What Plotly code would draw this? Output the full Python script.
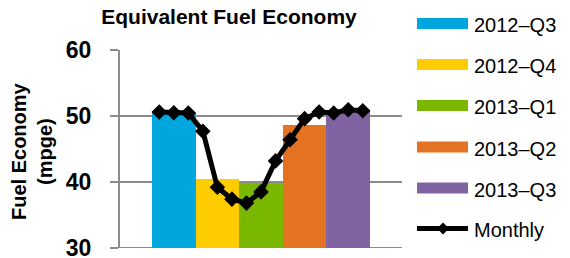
import plotly.graph_objects as go

quarters = ["2012–Q3", "2012–Q4", "2013–Q1", "2013–Q2", "2013–Q3"]
quarter_values = [50.5, 40.5, 39.9, 48.7, 50.7]
quarter_colors = ["#00A6DE", "#FFCC00", "#7AB800", "#E37222", "#8064A2"]

months = ["Jul-12", "Aug-12", "Sep-12", "Oct-12", "Nov-12", "Dec-12", "Jan-13", "Feb-13",
          "Mar-13", "Apr-13", "May-13", "Jun-13", "Jul-13", "Aug-13", "Sep-13"]
monthly_values = [50.6, 50.5, 50.45, 47.7, 39.2, 37.4, 36.8, 38.5,
                  43.2, 46.4, 49.6, 50.6, 50.45, 50.95, 50.8]

y_ticks = [30, 40, 50, 60]

W, H = 570, 258
L, R, T, B = 120, 168, 50, 10
PW, PH = W - L - R, H - T - B
FONT = "Arial, Liberation Sans, sans-serif"


def px(p):
    return (p - L) / PW


def py(q):
    return (H - B - q) / PH


fig = go.Figure()
for q, v, c in zip(quarters, quarter_values, quarter_colors):
    fig.add_trace(go.Bar(x=[q], y=[v], name=q, marker=dict(color=c, line=dict(width=0)),
                         showlegend=False, xaxis="x", yaxis="y"))

fig.add_trace(go.Scatter(x=months, y=monthly_values, name="Monthly", mode="lines+markers",
                         line=dict(color="black", width=5),
                         marker=dict(symbol="diamond", size=12, color="black"),
                         showlegend=False, xaxis="x2", yaxis="y"))

grid = "#8C8C8C"
fig.update_layout(
    width=W, height=H,
    margin=dict(l=L, r=R, t=T, b=B, pad=0, autoexpand=False),
    paper_bgcolor="white", plot_bgcolor="white",
    barmode="overlay", bargap=0,
    font=dict(family=FONT, color="black"),
    xaxis=dict(type="category", categoryorder="array", categoryarray=quarters,
               range=[-1.23, 5.23], showticklabels=False, showgrid=False,
               zeroline=False, showline=False, ticks="", automargin=False),
    xaxis2=dict(type="category", categoryorder="array", categoryarray=months,
                overlaying="x", range=[-2.7, 16.7], showticklabels=False,
                showgrid=False, zeroline=False, showline=False, ticks="", automargin=False),
    yaxis=dict(range=[30, 60], tickvals=y_ticks, showgrid=True, gridcolor=grid, gridwidth=2,
               zeroline=False, showline=True, linecolor=grid, linewidth=2,
               ticks="outside", ticklen=8, tickwidth=2, tickcolor=grid,
               ticklabelstandoff=14, automargin=False, ticklabeloverflow="allow",
               tickfont=dict(size=23, family=FONT, weight="bold", color="black")),
    title=dict(text="Equivalent Fuel Economy", x=px(229), xanchor="center",
               xref="paper", y=1 - 17 / H, yanchor="middle",
               font=dict(size=21, family=FONT, weight="bold", color="black")),
)

# y-axis title
fig.add_annotation(text="Fuel Economy<br>(mpge)", xref="paper", yref="paper",
                   x=px(32), y=py(151), xanchor="center", yanchor="middle",
                   textangle=-90, showarrow=False,
                   font=dict(size=20, family=FONT, weight="bold", color="black"))

# bottom axis line
fig.add_shape(type="line", xref="paper", yref="y", x0=px(112), x1=1, y0=30, y1=30,
              line=dict(color=grid, width=2), layer="below")

# manual legend
row_y = [23.5, 64.5, 105.5, 147, 188, 228.5]
for q, c, ry in zip(quarters, quarter_colors, row_y):
    fig.add_shape(type="rect", xref="paper", yref="paper",
                  x0=px(417), x1=px(468), y0=py(ry - 5.5), y1=py(ry + 5.5),
                  fillcolor=c, line=dict(width=0))
    fig.add_annotation(text=q, xref="paper", yref="paper", x=px(472), y=py(ry + 1.5),
                       xanchor="left", yanchor="middle", showarrow=False,
                       font=dict(size=20, family=FONT, color="black"))
ry = row_y[-1]
fig.add_shape(type="line", xref="paper", yref="paper", x0=px(417), x1=px(468),
              y0=py(ry), y1=py(ry), line=dict(color="black", width=5))
fig.add_shape(type="path", xref="paper", yref="paper",
              path=f"M {px(443)},{py(ry - 6)} L {px(449)},{py(ry)} L {px(443)},{py(ry + 6)} L {px(437)},{py(ry)} Z",
              fillcolor="black", line=dict(width=0))
fig.add_annotation(text="Monthly", xref="paper", yref="paper", x=px(472), y=py(ry + 1.5),
                   xanchor="left", yanchor="middle", showarrow=False,
                   font=dict(size=20, family=FONT, color="black"))

fig.write_html("out.html", config={"displayModeBar": False},
               post_script="document.body.style.margin='0';document.body.style.overflow='hidden';")
